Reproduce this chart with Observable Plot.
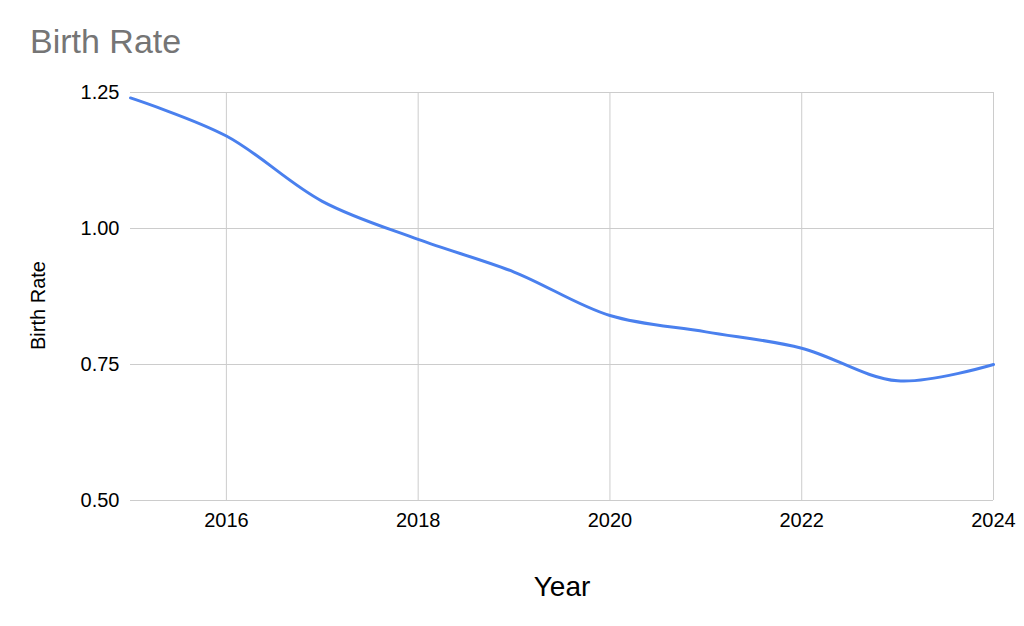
<!DOCTYPE html>
<html>
<head>
<meta charset="utf-8">
<script src="https://cdn.jsdelivr.net/npm/d3@7"></script>
<script src="https://cdn.jsdelivr.net/npm/@observablehq/plot@0.6"></script>
<style>
  html, body { margin: 0; padding: 0; background: #fff; }
  body { width: 1024px; height: 626px; overflow: hidden; font-family: "Liberation Sans", Arial, sans-serif; }
  #title { height: 70px; box-sizing: border-box; padding-left: 30px; padding-top: 24px; font-size: 34px; color: #757575; line-height: 34px; white-space: nowrap; }
</style>
</head>
<body>
<div id="title">Birth Rate</div>
<div id="chart"></div>
<script>
const years = [2015, 2016, 2017, 2018, 2019, 2020, 2021, 2022, 2023, 2024];
const birthRate = [1.24, 1.17, 1.05, 0.98, 0.92, 0.84, 0.81, 0.78, 0.72, 0.75];
const xTicks = [2016, 2018, 2020, 2022, 2024];
const yTicks = [0.5, 0.75, 1.0, 1.25];
const xLabel = "Year";
const yLabel = "Birth Rate";

const data = years.map((y, i) => ({year: y, rate: birthRate[i]}));

const chart = Plot.plot({
  width: 1024,
  height: 556,
  marginTop: 22,
  marginBottom: 126,
  marginLeft: 130,
  marginRight: 31,
  style: {fontFamily: "'Liberation Sans', Arial, sans-serif", fontSize: "20px", color: "#000", background: "#fff"},
  x: {domain: [2015, 2024]},
  y: {domain: [0.5, 1.25]},
  marks: [
    Plot.gridX({ticks: xTicks, stroke: "#cccccc", strokeOpacity: 1, strokeWidth: 1}),
    Plot.gridY({ticks: yTicks, stroke: "#cccccc", strokeOpacity: 1, strokeWidth: 1}),
    Plot.axisX({ticks: xTicks, tickSize: 0, tickPadding: 12, tickFormat: d => String(d), fontSize: 20, fill: "#000", label: null}),
    Plot.axisY({ticks: yTicks, tickSize: 0, tickPadding: 11, tickFormat: d => d.toFixed(2), fontSize: 20, fill: "#000", label: null}),
    Plot.text([xLabel], {frameAnchor: "bottom", textAnchor: "middle", lineAnchor: "bottom", dy: 95, fontSize: 28, fill: "#000"}),
    Plot.text([yLabel], {frameAnchor: "left", textAnchor: "middle", lineAnchor: "middle", rotate: -90, dx: -92, dy: 9, fontSize: 20, fill: "#000"}),
    Plot.line(data, {x: "year", y: "rate", curve: "catmull-rom", stroke: "#4a80ee", strokeWidth: 3})
  ]
});
document.getElementById("chart").appendChild(chart);
</script>
</body>
</html>
